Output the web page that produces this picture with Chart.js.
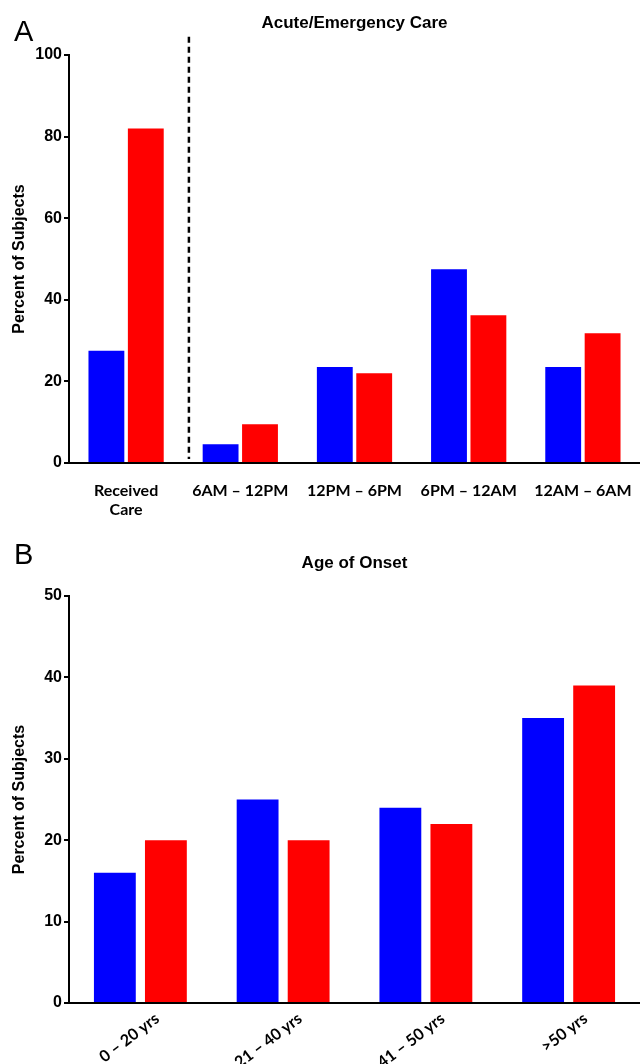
<!DOCTYPE html>
<html>
<head>
<meta charset="utf-8">
<script src="https://cdn.jsdelivr.net/npm/chart.js@4"></script>
<style>
  body { margin: 0; background: #fff; width: 640px; height: 1064px; position: relative; overflow: hidden; }
  .panel { position: absolute; left: 0; width: 640px; height: 532px; }
  .letter { position: absolute; left: 14px; font: 29px "Liberation Sans", Arial, sans-serif; line-height: 1; color: #000; }
</style>
</head>
<body>
<div class="panel" style="top:0"><canvas id="chartA"></canvas></div>
<div class="panel" style="top:532px"><canvas id="chartB"></canvas></div>
<div class="letter" style="top:17px">A</div>
<div class="letter" style="top:540px">B</div>
<script>
// Panel A - acute/emergency care
const careLabels = [['Received', 'Care'], '6AM – 12PM', '12PM – 6PM', '6PM – 12AM', '12AM – 6AM'];
const careBlue = [27.5, 4.6, 23.5, 47.5, 23.5];
const careRed = [82, 9.5, 22, 36.2, 31.8];
const careTicks = [0, 20, 40, 60, 80, 100];

// Panel B - age of onset
const onsetLabels = ['0 – 20 yrs', '21 – 40 yrs', '41 – 50 yrs', '>50 yrs'];
const onsetBlue = [16, 25, 24, 35];
const onsetRed = [20, 20, 22, 39];
const onsetTicks = [0, 10, 20, 30, 40, 50];

// dashed separator after "Received Care"
const dividerAt = 0.55;
const dividerTop = 104.5;

const BLUE = '#0000ff';
const RED = '#ff0000';
const boldArial = { family: '"Liberation Sans", Arial, sans-serif', weight: 'bold' };

function yScale(ticks) {
    return {
        min: ticks[0],
        max: ticks[ticks.length - 1],
        afterBuildTicks: s => { s.ticks = ticks.map(v => ({ value: v })); },
        afterFit: s => { s.width = 69; },
        border: { color: '#000', width: 2 },
        grid: { drawOnChartArea: false, color: '#000', lineWidth: 2, tickLength: 5 },
        ticks: { color: '#000', padding: 2, font: { ...boldArial, size: 16 } },
        title: {
            display: true, text: 'Percent of Subjects', color: '#000',
            font: { ...boldArial, size: 16 }, padding: { top: 10, bottom: 0 }
        }
    };
}

function xScale(height, rotation, pad, shift) {
    return {
        afterFit: s => { s.height = height; s.paddingLeft = 0; s.paddingRight = 0; },
        border: { color: '#000', width: 2 },
        grid: { display: false },
        ticks: {
            color: '#000', padding: pad, autoSkip: false, labelOffset: shift,
            minRotation: rotation, maxRotation: rotation,
            font: { family: 'Lato, "Open Sans", sans-serif', weight: 'bold', size: 16 }
        }
    };
}

// top axis only carries the title, so it is centred over the plot area
function titleScale(text, height, padTop) {
    return {
        position: 'top',
        afterFit: s => { s.height = height; s.paddingLeft = 0; s.paddingRight = 0; },
        border: { display: false },
        grid: { display: false },
        ticks: { display: false },
        title: {
            display: true, text: text, color: '#000',
            font: { ...boldArial, size: 17 }, padding: { top: padTop, bottom: 0 }
        }
    };
}

const dividerPlugin = {
    id: 'divider',
    afterDatasetsDraw(chart) {
        const x = chart.scales.x.getPixelForValue(dividerAt);
        const top = chart.scales.y.getPixelForValue(dividerTop);
        const bottom = chart.scales.y.getPixelForValue(1);
        const ctx = chart.ctx;
        ctx.save();
        ctx.strokeStyle = '#000';
        ctx.lineWidth = 2.5;
        ctx.setLineDash([6, 4]);
        ctx.beginPath();
        ctx.moveTo(x, top);
        ctx.lineTo(x, bottom);
        ctx.stroke();
        ctx.restore();
    }
};

function makeChart(id, labels, blue, red, ticks, opts) {
    return new Chart(document.getElementById(id), {
        type: 'bar',
        data: {
            labels: labels,
            datasets: [
                { data: blue, backgroundColor: BLUE, barPercentage: opts.bar, categoryPercentage: opts.cat },
                { data: red, backgroundColor: RED, barPercentage: opts.bar, categoryPercentage: opts.cat }
            ]
        },
        options: {
            responsive: true,
            maintainAspectRatio: false,
            animation: false,
            layout: { padding: 0 },
            plugins: {
                legend: { display: false },
                tooltip: { enabled: false }
            },
            scales: {
                x: xScale(opts.xHeight, opts.rotation, opts.labelPad, opts.labelShift),
                top: titleScale(opts.title, opts.topHeight, opts.titlePad),
                y: yScale(ticks)
            }
        },
        plugins: opts.plugins || []
    });
}

makeChart('chartA', careLabels, careBlue, careRed, careTicks, {
    title: 'Acute/Emergency Care',
    topHeight: 55, titlePad: 13,
    xHeight: 69, rotation: 0, labelPad: 10, labelShift: 0,
    bar: 0.91, cat: 0.69,
    plugins: [dividerPlugin]
});

makeChart('chartB', onsetLabels, onsetBlue, onsetRed, onsetTicks, {
    title: 'Age of Onset',
    topHeight: 64, titlePad: 21,
    xHeight: 61, rotation: 37, labelPad: -2, labelShift: 17,
    bar: 0.82, cat: 0.715
});
</script>
</body>
</html>
